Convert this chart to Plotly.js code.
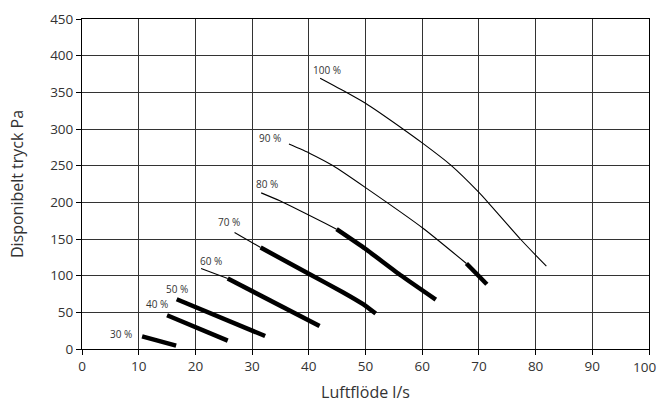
<!DOCTYPE html>
<html>
<head>
<meta charset="utf-8">
<script src="https://cdn.plot.ly/plotly-3.0.1.min.js"></script>
<style>html,body{margin:0;padding:0;background:#fff;}#chart{width:659px;height:405px;}</style>
</head>
<body>
<div id="chart"></div>
<script>
// Curve labels (fan speed)
const labels = ["30 %", "40 %", "50 %", "60 %", "70 %", "80 %", "90 %", "100 %"];
const labelX = [6.8, 13.3, 16.7, 22.7, 26.0, 32.7, 33.1, 43.2];
const labelY = [20.1, 61, 81.6, 119.7, 173, 224.8, 287.6, 380.4];

// Thin (outside recommended range) parts
const thin60X = [21.0, 25.7];            const thin60Y = [109.7, 96.1];
const thin70X = [26.9, 31.5];            const thin70Y = [158.9, 138.4];
const thin80X = [31.6, 34.9, 44.9];      const thin80Y = [212.9, 202, 163.4];
const thin90X = [36.5, 40.2, 44.3, 50.2, 60.2, 67.8];
const thin90Y = [279.4, 266.7, 249.8, 219, 164.3, 116.6];
const thin100X = [42.0, 46.6, 50.0, 56.6, 60.0, 65.0, 70.0, 71.6, 77.3, 80.0, 81.9];
const thin100Y = [369.1, 350, 335, 300, 281, 251, 213.5, 200, 150, 128, 112.9];

// Thick (recommended range) parts
const thick30X = [10.6, 16.6];           const thick30Y = [17.3, 4.6];
const thick40X = [15.0, 25.7];           const thick40Y = [46.0, 11.5];
const thick50X = [16.7, 32.3];           const thick50Y = [67.8, 17.7];
const thick60X = [25.7, 41.9];           const thick60Y = [96.1, 31.4];
const thick70X = [31.5, 40, 46, 49.5, 51.8];   const thick70Y = [138.4, 102.5, 77.5, 61.5, 48.3];
const thick80X = [44.9, 49.9, 56.2, 62.4];     const thick80Y = [163.4, 137, 100.6, 67.4];
const thick90X = [67.8, 71.4];           const thick90Y = [116.6, 88.3];

// Axis ticks
const xTicks = [0,10,20,30,40,50,60,70,80,90,100];
const xTickText = ["0","10","20","30","40","50","60","70","80","90",""];
const lastXTick = "100";
const yTicks = [0,50,100,150,200,250,300,350,400,450];

const thinSets = [[thin60X,thin60Y],[thin70X,thin70Y],[thin80X,thin80Y],[thin90X,thin90Y],[thin100X,thin100Y]];
const thickSets = [[thick30X,thick30Y],[thick40X,thick40Y],[thick50X,thick50Y],[thick60X,thick60Y],[thick70X,thick70Y],[thick80X,thick80Y],[thick90X,thick90Y]];

const traces = [];
thinSets.forEach(([x,y]) => traces.push({x, y, mode:'lines', line:{color:'#000', width:1.1, shape:'spline', smoothing:0.5}, hoverinfo:'skip'}));
thickSets.forEach(([x,y]) => traces.push({x, y, mode:'lines', line:{color:'#000', width:4.5, shape:'spline', smoothing:0.4}, hoverinfo:'skip'}));

const annotations = labels.map((t,i) => ({
  x: labelX[i], y: labelY[i], xref:'x', yref:'y', text:t, showarrow:false,
  font:{family:'Open Sans, sans-serif', size:10, color:'#333'}
}));
// last x tick label, nudged left so it stays inside the page (as in the reference)
annotations.push({
  x: xTicks[xTicks.length-1], y: 0, xref:'x', yref:'paper', text:lastXTick, showarrow:false,
  xanchor:'center', yanchor:'middle', xshift:-5, yshift:-18,
  font:{family:'Open Sans, sans-serif', size:13.5, color:'#333'}
});

const layout = {
  width:659, height:405,
  margin:{l:82, r:10, t:19, b:56, pad:0},
  paper_bgcolor:'#fff', plot_bgcolor:'#fff',
  showlegend:false,
  font:{family:'Open Sans, sans-serif', color:'#333'},
  xaxis:{
    range:[0,100], tickvals:xTicks, ticktext:xTickText,
    showgrid:true, gridcolor:'#333', gridwidth:1, zeroline:false,
    showline:true, linecolor:'#000', linewidth:1, mirror:true,
    ticks:'outside', ticklen:5, tickcolor:'#000',
    tickfont:{size:13.5, color:'#333'},
    title:{text:'Luftflöde l/s', font:{size:16, color:'#333'}, standoff:12}
  },
  yaxis:{
    range:[0,450], tickvals:yTicks, ticktext:yTicks.map(String),
    showgrid:true, gridcolor:'#333', gridwidth:1, zeroline:false,
    showline:true, linecolor:'#000', linewidth:1, mirror:true,
    ticks:'outside', ticklen:5, tickcolor:'#000',
    ticklabeloverflow:'allow',
    tickfont:{size:13.5, color:'#333'},
    title:{text:'Disponibelt tryck Pa', font:{size:16, color:'#333'}, standoff:22}
  },
  annotations
};

Plotly.newPlot('chart', traces, layout, {staticPlot:true, displayModeBar:false});
</script>
</body>
</html>
